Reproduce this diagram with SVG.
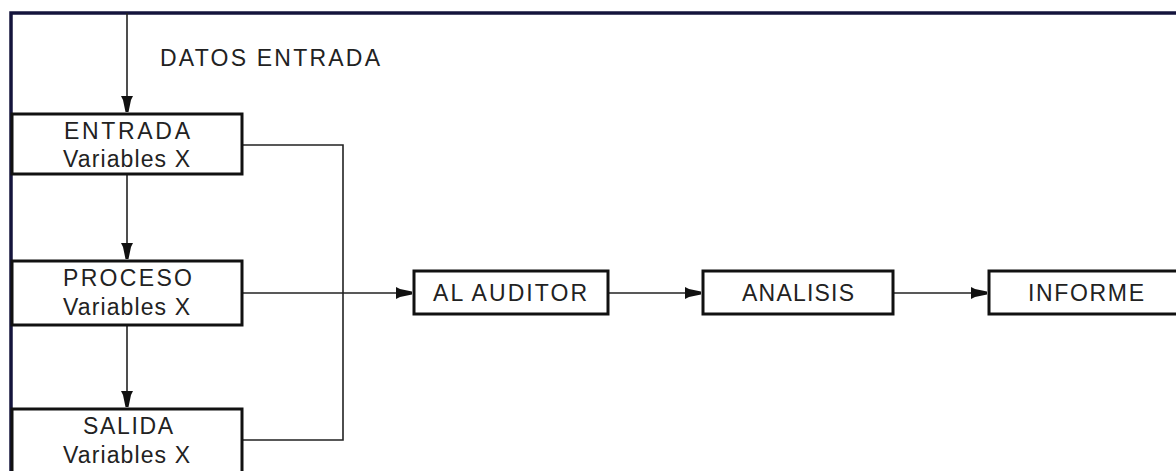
<svg xmlns="http://www.w3.org/2000/svg" width="1176" height="471" viewBox="0 0 1176 471">
<style>
.frame{fill:none;stroke:#14143c;stroke-width:3.5}
.box{fill:#fff;stroke:#111;stroke-width:3}
.line{fill:none;stroke:#222;stroke-width:1.6}
.t{font-family:"Liberation Sans",Arial,sans-serif;font-size:23px;fill:#222;text-anchor:start}
</style>
<defs>
<marker id="ah" markerUnits="userSpaceOnUse" markerWidth="18" markerHeight="14" refX="16" refY="7" orient="auto">
<path d="M0,1 L4,3 L16,5.5 L16,8.5 L4,11 L0,13 Z" fill="#111"/>
</marker>
</defs>
<rect width="1176" height="471" fill="#fff"/>
<g id="frame">
<path class="frame" d="M11,471 V13 H1176"/>
</g>
<g id="connectors">
<path class="line" d="M127,13 V112" marker-end="url(#ah)"/>
<path class="line" d="M127,174 V259" marker-end="url(#ah)"/>
<path class="line" d="M127,325 V407" marker-end="url(#ah)"/>
<path class="line" d="M242,145 H343 V440 H242"/>
<path class="line" d="M242,293 H412" marker-end="url(#ah)"/>
<path class="line" d="M608,293 H701" marker-end="url(#ah)"/>
<path class="line" d="M893,293 H987" marker-end="url(#ah)"/>
</g>
<g id="label-datos">
<text class="t" x="160" y="66" textLength="220" lengthAdjust="spacing">DATOS ENTRADA</text>
</g>
<g id="node-entrada">
<rect class="box" x="12" y="114" width="230" height="60"/>
<text class="t" x="64" y="139" textLength="126" lengthAdjust="spacing">ENTRADA</text>
<text class="t" x="63" y="167" textLength="127" lengthAdjust="spacing">Variables X</text>
</g>
<g id="node-proceso">
<rect class="box" x="12" y="261" width="230" height="64"/>
<text class="t" x="63" y="286" textLength="129" lengthAdjust="spacing">PROCESO</text>
<text class="t" x="63" y="315" textLength="127" lengthAdjust="spacing">Variables X</text>
</g>
<g id="node-salida">
<rect class="box" x="12" y="409" width="230" height="80"/>
<text class="t" x="83" y="434" textLength="90" lengthAdjust="spacing">SALIDA</text>
<text class="t" x="63" y="463" textLength="127" lengthAdjust="spacing">Variables X</text>
</g>
<g id="node-auditor">
<rect class="box" x="414" y="271" width="194" height="43"/>
<text class="t" x="433" y="301" textLength="154" lengthAdjust="spacing">AL AUDITOR</text>
</g>
<g id="node-analisis">
<rect class="box" x="703" y="271" width="190" height="43"/>
<text class="t" x="742" y="301" textLength="112" lengthAdjust="spacing">ANALISIS</text>
</g>
<g id="node-informe">
<rect class="box" x="989" y="271" width="200" height="43"/>
<text class="t" x="1028" y="301" textLength="116" lengthAdjust="spacing">INFORME</text>
</g>
</svg>
